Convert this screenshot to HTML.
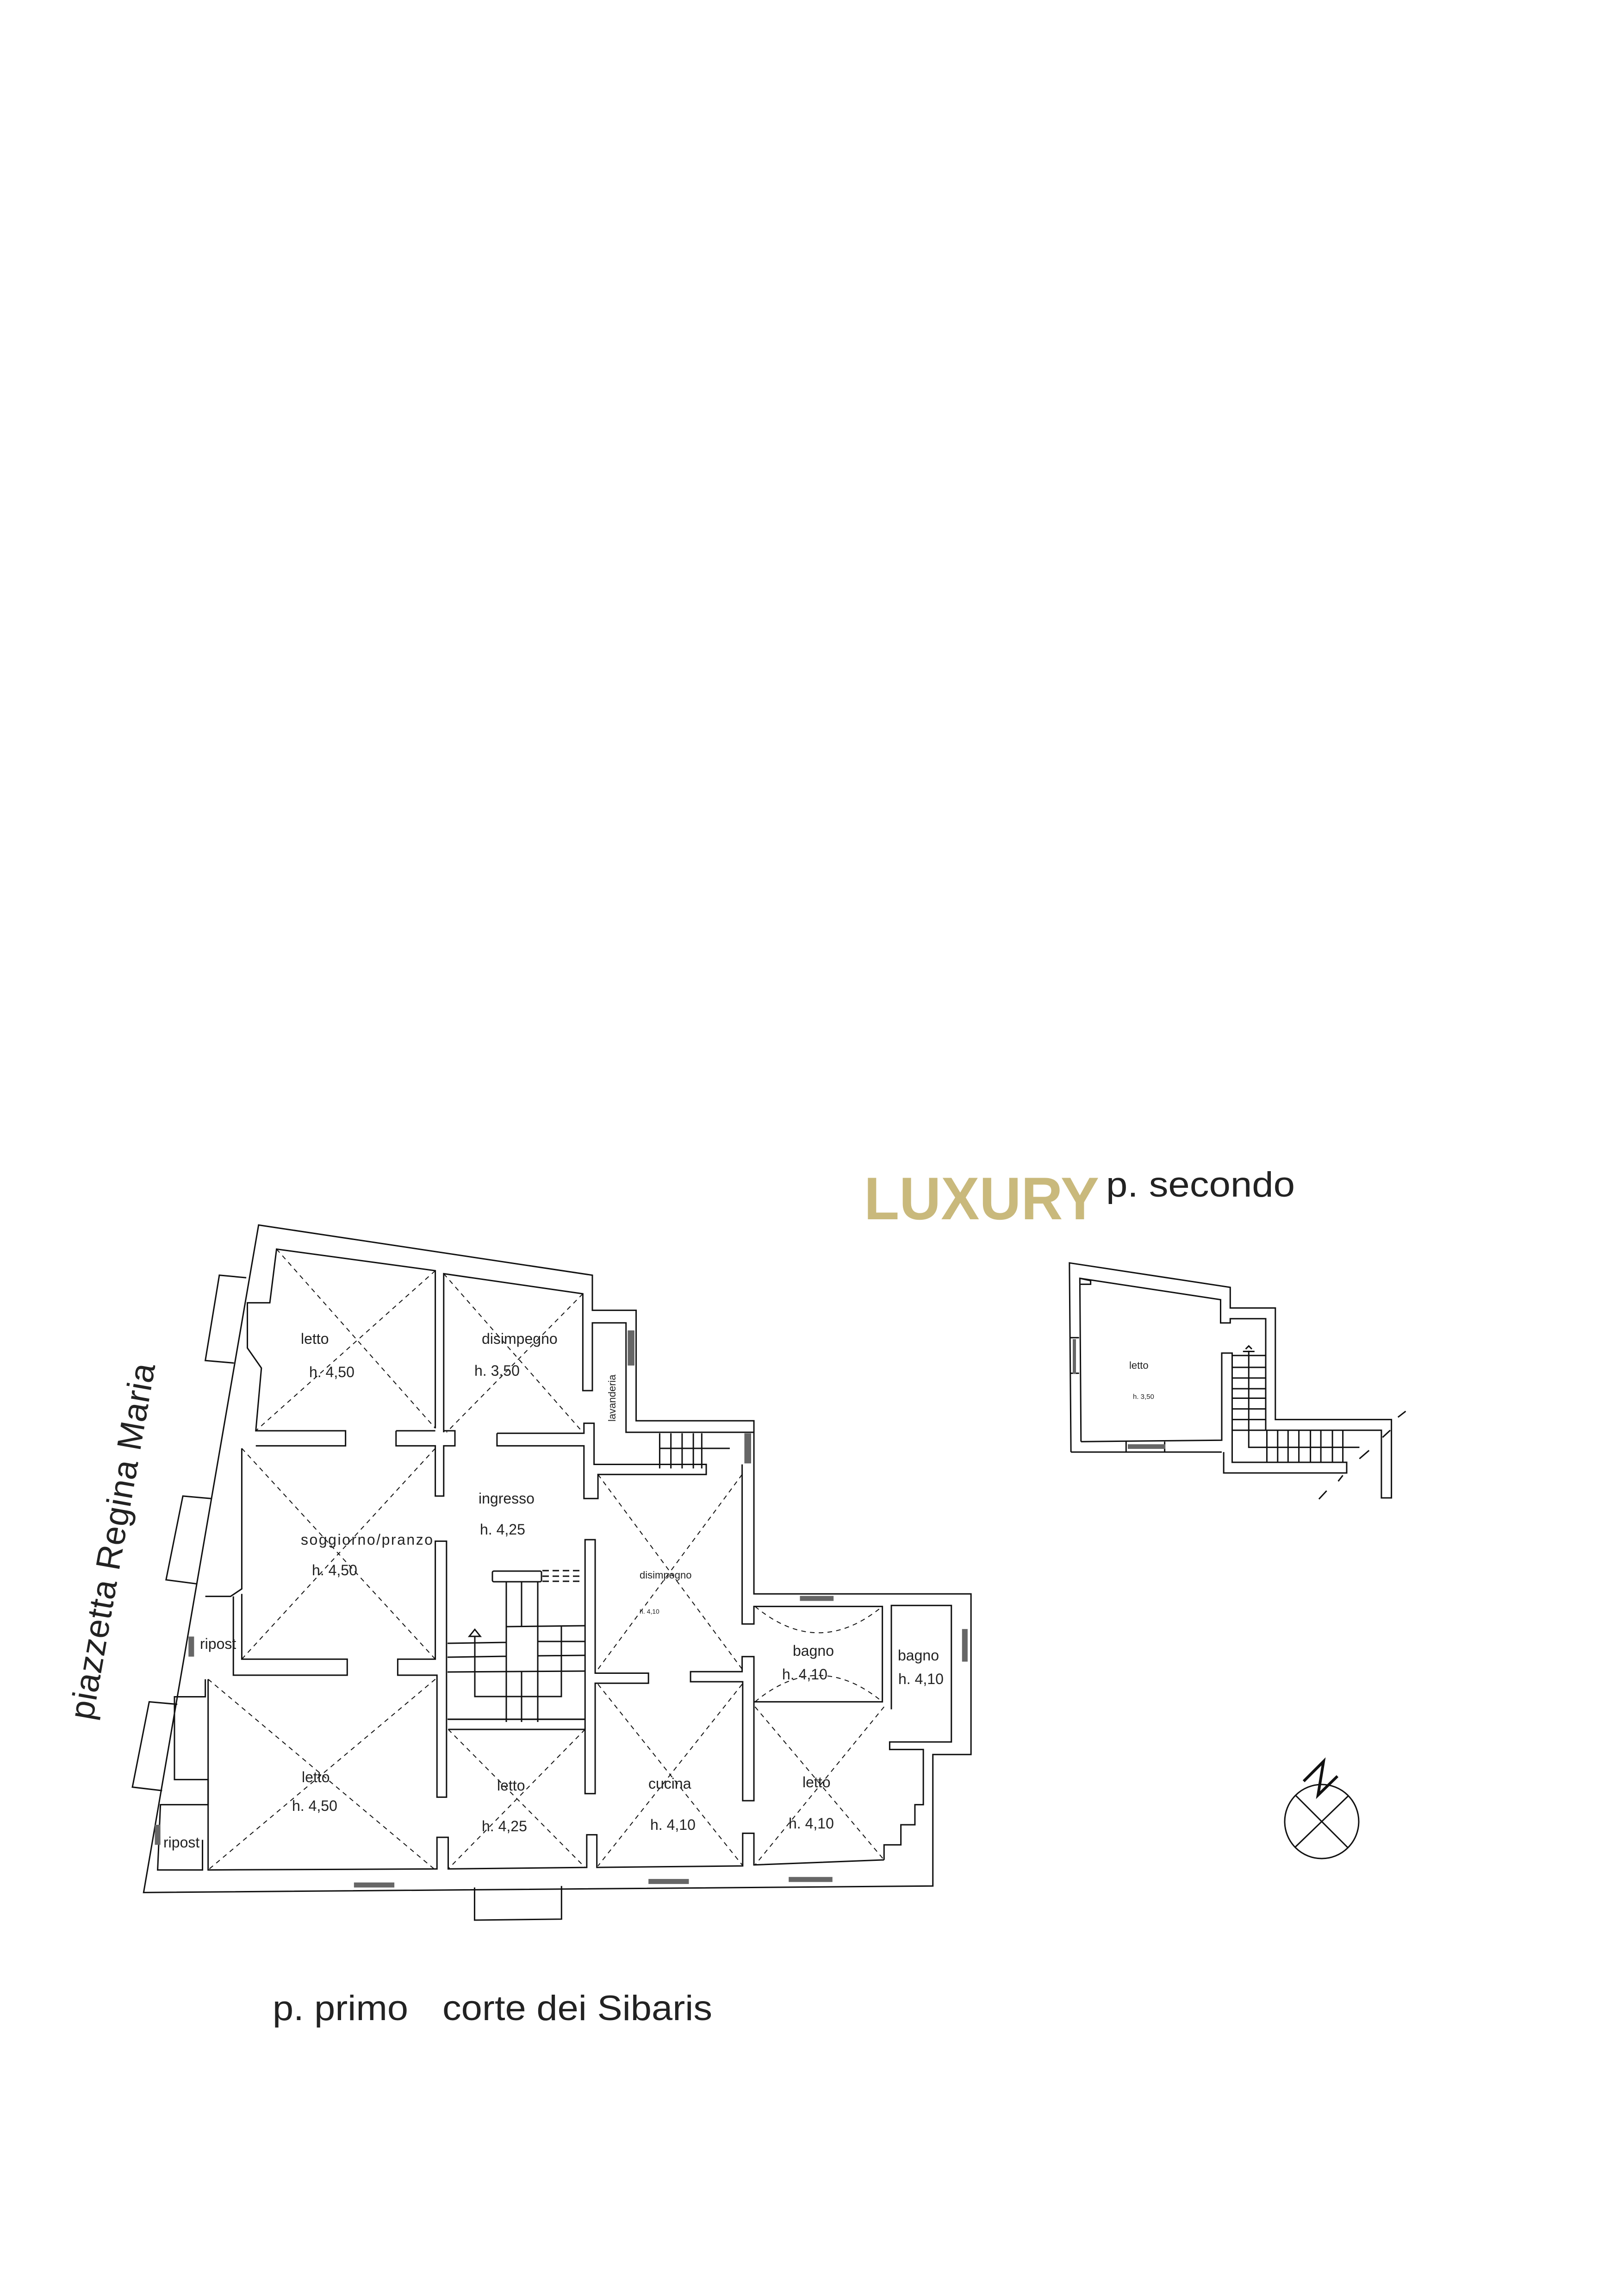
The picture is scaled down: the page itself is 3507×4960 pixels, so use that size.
<!DOCTYPE html>
<html><head><meta charset="utf-8"><style>
html,body{margin:0;padding:0;background:#fff}
svg{display:block}
text{font-family:"Liberation Sans",sans-serif;fill:#222}
</style></head><body>
<svg width="3507" height="4960" viewBox="0 0 3507 4960" xmlns="http://www.w3.org/2000/svg">
<rect width="3507" height="4960" fill="#fff"/>

<g transform="translate(280,2500) scale(1.2121,1.0842)" fill="none" stroke="#111" stroke-width="3" stroke-linejoin="miter">
 <path vector-effect="non-scaling-stroke" d="M230,135 L825,235 L825,305 L903,305 L903,525 L1113,525 L1113,870 L1500,870 L1500,1190 L1432,1190 L1432,1452 L25,1465 Z"/>
 <path vector-effect="non-scaling-stroke" d="M208,240 L160,235 L135,405 L186,410"/>
 <path vector-effect="non-scaling-stroke" d="M145,680 L95,675 L65,842 L120,850"/>
 <path vector-effect="non-scaling-stroke" d="M85,1090 L35,1085 L5,1255 L58,1262"/>
 <path vector-effect="non-scaling-stroke" d="M615,1455 L615,1520 L770,1518 L770,1452"/>
 <path vector-effect="non-scaling-stroke" d="M545,540 L545,226 L262,183 L250,290 L210,290 L210,380 L235,420 L225,545 L385,545 L385,575 L225,575"/>
 <path vector-effect="non-scaling-stroke" d="M560,548 L560,232 L808,272 L808,465 L825,465 L825,330 L885,330 L885,548 L1113,548"/>
 <path vector-effect="non-scaling-stroke" d="M475,545 L545,545 M560,545 L580,545 L580,575 L560,575 L560,675 L545,675 L545,575 L475,575 L475,545"/>
 <path vector-effect="non-scaling-stroke" d="M655,550 L810,550 L810,530 L828,530 L828,612 L1028,612 L1028,632 L835,632 L835,680 L810,680 L810,575 L655,575 L655,550"/>
 <path vector-effect="non-scaling-stroke" d="M200,580 L200,860 L180,875 L135,875 M200,870 L200,1000 L388,1000 L388,1032 L185,1032 L185,875"/>
 <path vector-effect="non-scaling-stroke" d="M545,765 L565,765 L565,1275 L548,1275 L548,1032 L478,1032 L478,1000 L545,1000 Z"/>
 <path vector-effect="non-scaling-stroke" d="M812,762 L830,762 L830,1028 L925,1028 L925,1048 L830,1048 L830,1268 L812,1268 Z"/>
 <path vector-effect="non-scaling-stroke" d="M1000,1025 L1092,1025 L1092,995 L1113,995 L1113,1282 L1093,1282 L1093,1045 L1000,1045 Z"/>
 <path vector-effect="non-scaling-stroke" d="M1092,612 L1092,930 L1113,930 L1113,895 L1342,895 L1342,1085 L1113,1085 M1358,1100 L1358,893 L1465,893 L1465,1165 L1355,1165 L1355,1180 L1415,1180 L1415,1290 L1400,1290 L1400,1330 L1375,1330 L1375,1370 L1345,1370 L1345,1400"/>
 <path vector-effect="non-scaling-stroke" d="M140,1040 L140,1420 L548,1418 L548,1355 L568,1355 L568,1418 L815,1415 L815,1350 L833,1350 L833,1415 L1093,1412 L1093,1347 L1113,1347 L1113,1410 L1345,1400"/>
 <path vector-effect="non-scaling-stroke" d="M135,1040 L135,1075 L80,1075 L80,1240 L140,1240 L140,1290 L55,1290 L50,1420 L130,1420 L130,1360"/>
 <path vector-effect="non-scaling-stroke" d="M568,1140 L812,1140 M568,1120 L812,1120"/>
 <g stroke-dasharray="10,9" stroke-width="2">
  <path vector-effect="non-scaling-stroke" d="M262,183 L545,540 M545,226 L225,545"/>
  <path vector-effect="non-scaling-stroke" d="M560,232 L808,548 M808,272 L565,548"/>
  <path vector-effect="non-scaling-stroke" d="M200,580 L545,1000 M545,580 L200,1000"/>
  <path vector-effect="non-scaling-stroke" d="M835,632 L1092,1020 M1092,632 L835,1020"/>
  <path vector-effect="non-scaling-stroke" d="M140,1040 L545,1420 M545,1040 L140,1420"/>
  <path vector-effect="non-scaling-stroke" d="M568,1140 L812,1415 M812,1140 L568,1418"/>
  <path vector-effect="non-scaling-stroke" d="M835,1050 L1092,1410 M1092,1050 L835,1412"/>
  <path vector-effect="non-scaling-stroke" d="M1115,1095 L1345,1400 M1345,1095 L1115,1410"/>
  <path vector-effect="non-scaling-stroke" d="M1115,895 Q1228,1000 1342,895 M1115,1085 Q1228,980 1342,1085"/>
 </g>
 <g fill="#666" stroke="none">
  <rect x="888" y="345" width="12" height="70"/>
  <rect x="1096" y="550" width="12" height="60"/>
  <rect x="1195" y="874" width="60" height="10"/>
  <rect x="1484" y="940" width="10" height="65"/>
  <rect x="400" y="1445" width="72" height="10"/>
  <rect x="925" y="1438" width="72" height="10"/>
  <rect x="1175" y="1434" width="78" height="10"/>
  <rect x="105" y="955" width="10" height="40"/>
  <rect x="45" y="1330" width="10" height="40"/>
 </g>
 <path vector-effect="non-scaling-stroke" d="M945,550 L945,620 M965,550 L965,620 M985,550 L985,620 M1005,550 L1005,620 M1020,550 L1020,620 M945,580 L1070,580"/>
</g>

<g fill="none" stroke="#111" stroke-width="3">
 <rect x="1064" y="3394" width="106" height="23" rx="3"/>
 <path d="M1172,3393 L1255,3393 M1172,3416 L1255,3416" stroke-dasharray="14,8"/>
 <path d="M1172,3405 L1255,3405" stroke-dasharray="14,8"/>
 <path d="M1094,3417 L1094,3720 M1127,3417 L1127,3514 M1162,3417 L1162,3720 M1127,3612 L1127,3720"/>
 <path d="M1094,3514 L1263,3512 M967,3550 L1094,3548 M1162,3546 L1263,3546 M967,3580 L1094,3578 M1162,3577 L1263,3576 M967,3612 L1263,3610 M1094,3612 L1094,3514 M1213,3514 L1213,3665 L1026,3665 L1026,3535"/>
 <path d="M1026,3520 L1014,3535 L1038,3535 Z"/>
 <path d="M967,3714 L1263,3714"/>
</g>

<g font-size="32">
 <text x="650" y="2903">letto</text>
 <text x="668" y="2975">h. 4,50</text>
 <text x="1041" y="2903">disimpegno</text>
 <text x="1025" y="2972">h. 3,50</text>
 <text x="1034" y="3248">ingresso</text>
 <text x="1037" y="3315">h. 4,25</text>
 <text x="650" y="3337" textLength="285">soggiorno/pranzo</text>
 <text x="674" y="3403">h. 4,50</text>
 <text x="1713" y="3577">bagno</text>
 <text x="1690" y="3628">h. 4,10</text>
 <text x="1940" y="3587">bagno</text>
 <text x="1941" y="3638">h. 4,10</text>
 <text x="432" y="3562">ripost</text>
 <text x="652" y="3850">letto</text>
 <text x="631" y="3912">h. 4,50</text>
 <text x="1074" y="3868">letto</text>
 <text x="1041" y="3956">h. 4,25</text>
 <text x="1401" y="3864">cucina</text>
 <text x="1405" y="3953">h. 4,10</text>
 <text x="1734" y="3861">letto</text>
 <text x="1704" y="3950">h. 4,10</text>
 <text x="353" y="3991">ripost</text>
</g>
<text x="1382" y="3410" font-size="22">disimpegno</text>
<text x="1382" y="3486" font-size="14">h. 4,10</text>
<text x="1330" y="3071" font-size="22" transform="rotate(-90 1330 3071)">lavanderia</text>

<text x="200" y="3718" font-size="74" fill="#333" textLength="780" transform="rotate(-80 200 3718)">piazzetta Regina Maria</text>
<text x="589" y="4364" font-size="76" fill="#333" textLength="293" lengthAdjust="spacingAndGlyphs">p. primo</text>
<text x="956" y="4364" font-size="76" fill="#333" textLength="583" lengthAdjust="spacingAndGlyphs">corte dei Sibaris</text>
<text x="1867" y="2634" font-size="130" font-weight="bold" style="fill:#c9b97c" textLength="508" lengthAdjust="spacingAndGlyphs">LUXURY</text>
<text x="2390" y="2585" font-size="76" fill="#333" textLength="408" lengthAdjust="spacingAndGlyphs">p. secondo</text>

<g transform="translate(1850,2500) scale(0.8333,0.5128)" fill="none" stroke="#111" stroke-width="3">
 <path vector-effect="non-scaling-stroke" d="M557,1242 L553,445 L970,548 L970,635 L1087,635 L1087,1105 L1388,1105 L1388,1435 L1362,1435 L1362,1150 L1062,1150"/>
 <path vector-effect="non-scaling-stroke" d="M557,1242 L948,1242 M583,1198 L948,1192 L948,825 L975,825 L975,1285 L1272,1285 L1272,1330 L953,1330 L953,1242"/>
 <path vector-effect="non-scaling-stroke" d="M583,1198 L580,510 L945,600 L945,698 L970,698 L970,680 L1062,680 L1062,1150"/>
 <path vector-effect="non-scaling-stroke" d="M580,510 L608,520 L608,535 L582,535"/>
 <path vector-effect="non-scaling-stroke" d="M975,835 L1062,835 M975,885 L1062,885 M975,930 L1062,930 M975,975 L1062,975 M975,1015 L1062,1015 M975,1060 L1062,1060 M975,1105 L1062,1105 M975,1150 L1062,1150"/>
 <path vector-effect="non-scaling-stroke" d="M1065,1150 L1065,1285 M1093,1150 L1093,1285 M1120,1150 L1120,1285 M1148,1150 L1148,1285 M1178,1150 L1178,1285 M1205,1150 L1205,1285 M1235,1150 L1235,1285 M1262,1150 L1262,1285"/>
 <path vector-effect="non-scaling-stroke" d="M1018,815 L1018,1222 L1305,1222 M1003,818 L1033,818 M1010,808 L1018,795 L1026,808"/>
 <path vector-effect="non-scaling-stroke" d="M700,1198 L700,1242 M800,1198 L800,1242 M555,760 L578,760 M555,910 L578,910"/>
 <path vector-effect="non-scaling-stroke" d="M1405,1095 L1425,1070 M1365,1180 L1385,1150 M1305,1270 L1330,1235 M1250,1365 L1262,1340 M1200,1440 L1220,1405"/>
</g>
<rect x="2437" y="3120" width="81" height="10" fill="#666"/>
<rect x="2318" y="2893" width="7" height="75" fill="#666"/>
<text x="2440" y="2957" font-size="22">letto</text>
<text x="2448" y="3022" font-size="15">h. 3,50</text>

<g fill="none" stroke="#111" stroke-width="3">
 <circle cx="2856" cy="3935" r="80"/>
 <path d="M2799,3878 L2913,3992 M2913,3880 L2799,3990"/>
 <path d="M2817,3848 L2860,3805 L2848,3878 L2890,3837" stroke-width="6"/>
</g>
</svg>
</body></html>
